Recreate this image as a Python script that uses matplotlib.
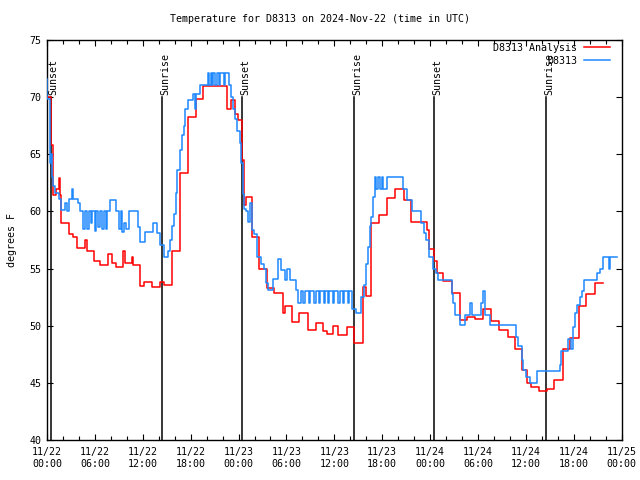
import matplotlib
matplotlib.use("Agg")
import matplotlib.pyplot as plt
import matplotlib.dates as mdates
import matplotlib.transforms as mtransforms
from datetime import datetime, timedelta

# ---------------- data (hours since 2024-11-22 00:00 UTC) ----------------
analysis_hours = [0.0, 0.5, 0.7, 0.8, 1.1, 1.5, 1.6, 1.7, 2.7, 3.2, 3.7, 4.7, 5.0, 5.9, 6.6,
                  7.6, 8.1, 8.7, 9.5, 9.8, 10.6, 10.8, 11.7, 12.1, 13.1, 14.1, 14.6, 15.6,
                  16.7, 17.7, 18.7, 19.6, 22.5, 23.0, 23.5, 23.9, 24.45, 24.65, 24.95, 25.65,
                  26.55, 27.55, 28.4, 29.6, 29.8, 30.7, 31.6, 32.7, 33.7, 34.6, 35.1, 35.8,
                  36.5, 37.6, 38.45, 39.65, 39.95, 40.65, 41.65, 42.65, 43.6, 44.7, 45.6,
                  47.6, 47.9, 48.5, 48.8, 49.6, 50.7, 51.7, 52.6, 53.6, 54.6, 55.65, 56.65,
                  57.75, 58.65, 59.45, 60.15, 60.65, 61.6, 62.6, 63.5, 64.6, 65.5, 66.6,
                  67.5, 68.6, 69.6]
analysis_temps = [70.0, 65.8, 63.0, 61.4, 62.0, 62.9, 61.4, 59.0, 58.0, 57.8, 56.8, 57.5, 56.5,
                  55.7, 55.3, 56.3, 55.5, 55.1, 56.5, 55.5, 56.0, 55.3, 53.5, 53.8, 53.4, 53.8,
                  53.6, 56.5, 63.4, 68.3, 69.8, 71.0, 69.0, 69.75, 68.5, 68.0, 64.5, 60.6,
                  61.3, 57.8, 55.0, 53.3, 52.9, 51.1, 51.7, 50.3, 51.1, 49.6, 50.2, 49.5, 49.3,
                  50.0, 49.2, 49.9, 48.5, 53.4, 52.6, 59.0, 59.7, 61.2, 62.0, 61.0, 59.1, 58.4,
                  56.7, 55.7, 54.6, 53.9, 52.9, 50.5, 50.8, 50.6, 51.5, 50.4, 49.6, 49.0, 48.0,
                  46.1, 45.0, 44.6, 44.3, 44.5, 45.25, 48.0, 48.9, 51.7, 52.8, 53.7, 53.7]

obs_hours = [0.0, 0.06, 0.37, 0.5, 0.62, 0.8, 1.0, 1.55, 1.8, 2.2, 2.55, 2.75, 3.15, 3.3, 3.9,
             4.1, 4.45, 4.75, 5.0, 5.2, 5.5, 5.7, 6.0, 6.15, 6.4, 6.6, 6.9, 7.1, 7.35, 7.5,
             7.95, 8.65, 9.05, 9.25, 9.45, 9.65, 9.9, 10.3, 11.35, 11.65, 12.3, 13.3, 13.8,
             14.1, 14.6, 15.1, 15.35, 15.65, 15.85, 16.1, 16.25, 16.6, 16.9, 17.2, 17.3, 17.7,
             18.3, 18.55, 18.7, 19.15, 20.2, 20.35, 20.5, 20.65, 20.85, 21.1, 21.3, 21.55,
             21.7, 22.15, 22.35, 22.75, 23.0, 23.25, 23.55, 23.85, 24.15, 24.3, 24.5, 24.65,
             24.95, 25.15, 25.45, 25.65, 25.95, 26.25, 26.75, 27.15, 27.45, 27.7, 28.35, 29.0,
             29.3, 29.8, 30.1, 30.4, 31.2, 31.5, 31.8, 32.1, 32.3, 32.8, 32.95, 33.5, 33.65,
             34.1, 34.25, 34.7, 34.85, 35.2, 35.35, 35.8, 35.95, 36.5, 36.65, 37.1, 37.25,
             37.7, 37.85, 38.25, 38.75, 39.3, 39.75, 39.95, 40.2, 40.45, 40.65, 40.85, 41.05,
             41.25, 41.45, 41.7, 41.95, 42.15, 42.55, 44.6, 45.1, 45.7, 46.9, 47.2, 47.5,
             47.85, 48.3, 48.75, 49.0, 50.7, 50.9, 51.1, 51.7, 52.35, 53.0, 53.3, 54.4, 54.65,
             54.85, 55.45, 58.75, 59.05, 59.45, 59.65, 60.05, 60.45, 61.35, 64.3, 64.4, 65.3,
             65.6, 65.9, 66.1, 66.35, 66.8, 67.0, 67.3, 68.9, 69.3, 69.6, 69.7, 70.35, 70.55,
             71.35]
obs_temps = [71.6, 69.8, 64.2, 65.0, 63.0, 62.2, 61.6, 61.1, 60.1, 60.7, 60.0, 61.1, 62.0, 61.1,
             60.7, 60.0, 58.5, 60.0, 58.5, 60.0, 59.0, 60.0, 58.3, 60.0, 58.6, 60.0, 58.5, 60.0,
             58.5, 60.0, 61.0, 60.0, 58.5, 60.0, 58.2, 59.0, 58.5, 60.0, 58.6, 57.3, 58.2, 59.0,
             58.1, 57.1, 56.0, 56.5, 57.5, 58.7, 59.8, 61.6, 63.6, 65.4, 66.7, 67.5, 69.0,
             69.75, 70.3, 69.0, 70.3, 71.06, 72.1, 71.06, 72.1, 71.06, 72.1, 71.06, 72.1, 71.06,
             72.1, 71.06, 72.1, 71.06, 70.0, 69.0, 68.1, 67.0, 66.0, 64.2, 61.5, 60.2, 60.0,
             59.1, 60.7, 58.4, 58.0, 56.0, 55.4, 55.0, 53.7, 53.1, 54.1, 55.8, 54.9, 54.0, 55.0,
             54.0, 53.1, 52.0, 53.0, 52.0, 53.0, 52.0, 53.0, 52.0, 53.0, 52.0, 53.0, 52.0, 53.0,
             52.0, 53.0, 52.0, 53.0, 52.0, 53.0, 52.0, 53.0, 52.0, 53.0, 51.5, 51.1, 52.5, 53.6,
             55.4, 56.9, 58.7, 59.5, 61.3, 63.0, 62.0, 63.0, 62.0, 63.0, 62.0, 63.0, 62.0, 61.0,
             60.0, 59.0, 58.1, 57.5, 56.0, 55.0, 54.6, 54.0, 52.8, 52.0, 50.9, 50.1, 50.9, 52.0,
             50.9, 52.0, 53.0, 50.9, 50.1, 49.05, 48.2, 47.0, 46.1, 45.5, 45.0, 46.0, 46.6, 47.8,
             48.8, 48.0, 49.9, 51.1, 51.8, 52.5, 53.0, 54.0, 54.6, 55.0, 55.5, 56.0, 55.0, 56.0,
             56.0]

event_hours = [0.48, 14.45, 24.48, 38.5, 48.5, 62.55]
event_labels = ["Sunset", "Sunrise", "Sunset", "Sunrise", "Sunset", "Sunrise"]

yticks = [40, 45, 50, 55, 60, 65, 70, 75]
title = "Temperature for D8313 on 2024-Nov-22 (time in UTC)"

# ---------------------------------------------------------------------------
base = datetime(2024, 11, 22)
to_dt = lambda hs: [base + timedelta(hours=h) for h in hs]

plt.rcParams['font.family'] = ['DejaVu Sans Mono']
FS = 7.2

fig = plt.figure(figsize=(6.4, 4.8), dpi=100)
ax = fig.add_axes([47/640, 1 - 440/480, (621.7 - 47)/640, 400/480])

ax.step(to_dt(analysis_hours), analysis_temps, where='post', color='#ff0000', lw=1.1,
        label='D8313 Analysis', zorder=3)
ax.step(to_dt(obs_hours), obs_temps, where='post', color='#1e88ff', lw=1.1,
        label='D8313', zorder=3)

trans = mtransforms.blended_transform_factory(ax.transData, ax.transAxes)
for h, lab in zip(event_hours, event_labels):
    t = mdates.date2num(base + timedelta(hours=h))
    ax.plot([t, t], [0, 0.8575], color='black', lw=1.1, transform=trans, zorder=2)
    off = mtransforms.offset_copy(trans, fig=fig, x=-2.0, y=0, units='dots')
    ax.text(t, 0.8625, lab, rotation=90, ha='left', va='bottom', fontsize=FS,
            transform=off, zorder=4)

ax.set_xlim(base, base + timedelta(hours=72))
ax.set_ylim(40, 75)
ax.set_yticks(yticks)
ax.set_yticklabels([str(v) for v in yticks], fontsize=FS)

ax.xaxis.set_major_locator(mdates.HourLocator(byhour=[0, 6, 12, 18]))
ax.xaxis.set_minor_locator(mdates.HourLocator(byhour=range(0, 24, 2)))
ax.xaxis.set_major_formatter(mdates.DateFormatter('%m/%d\n%H:%M'))
for lab in ax.get_xticklabels():
    lab.set_fontsize(FS)

ax.tick_params(axis='both', which='both', direction='in', top=True, right=True,
               colors='black', width=0.8)
ax.tick_params(axis='x', which='major', length=4, pad=5, labelsize=FS)
ax.tick_params(axis='x', which='minor', length=3)
ax.tick_params(axis='y', which='major', length=4, pad=4, labelsize=FS)
for sp in ax.spines.values():
    sp.set_linewidth(1.0)

ax.set_ylabel('degrees F', fontsize=FS, labelpad=9)
fig.text(0.5, 1 - 19/480, title, ha='center', va='center', fontsize=FS)

leg = ax.legend(loc='upper right', bbox_to_anchor=(1 - 11.7/574.7, 1 - 3/400),
                markerfirst=False, frameon=False, fontsize=FS, handlelength=2.6,
                handletextpad=0.7, borderpad=0, borderaxespad=0, labelspacing=0.3)
for t in leg.get_texts():
    t.set_ha('right')

fig.savefig('out.png', dpi=100)
